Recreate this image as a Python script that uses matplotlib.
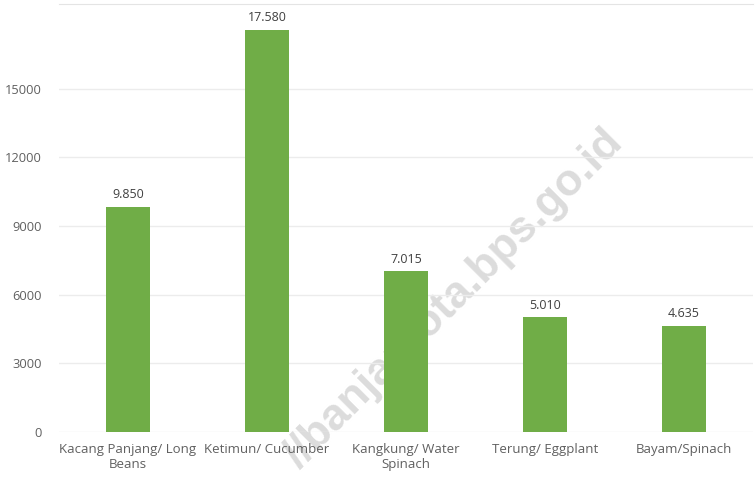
import matplotlib.pyplot as plt

categories = ['Kacang Panjang/ Long\nBeans', 'Ketimun/ Cucumber', 'Kangkung/ Water\nSpinach',
              'Terung/ Eggplant', 'Bayam/Spinach']
values = [9850, 17580, 7015, 5010, 4635]
value_labels = ['9.850', '17.580', '7.015', '5.010', '4.635']
yticks = [0, 3000, 6000, 9000, 12000, 15000]

plt.rcParams['font.family'] = ['Open Sans', 'DejaVu Sans']

fig = plt.figure(figsize=(7.55, 4.79), dpi=100)
ax = fig.add_axes([0.0775, 0.098, 0.9205, 0.8936])

# watermark behind everything
fig.text(0.816, 0.716, '//banjarkota.bps.go.id', family='Liberation Sans', weight='bold',
         fontsize=32, color='#dcdcdc', rotation=45, rotation_mode='anchor',
         ha='right', va='center', zorder=-1)
ax.set_facecolor('none')

x = range(len(categories))
bars = ax.bar(x, values, width=0.32, color='#70ad47', zorder=3)
for b, lab in zip(bars, value_labels):
    ax.text(b.get_x() + b.get_width() / 2, b.get_height() + 250, lab,
            ha='center', va='bottom', fontsize=9, color='#404040')

ax.set_xlim(-0.5, len(categories) - 0.5)
ax.set_ylim(0, 18700)
ax.set_yticks(yticks)
ax.set_yticklabels([str(t) for t in yticks], fontsize=9.3, color='#606060')
ax.set_xticks(list(x))
ax.set_xticklabels(categories, fontsize=9.5, color='#606060', linespacing=1.15)
ax.tick_params(axis='y', length=0, pad=12)
ax.tick_params(axis='x', length=0, pad=8)
ax.grid(axis='y', color='#ececec', linewidth=1, zorder=0)
for s in ['left', 'right', 'bottom']:
    ax.spines[s].set_visible(False)
ax.spines['top'].set_color('#e4e4e4')

fig.savefig('out.png', dpi=100)
